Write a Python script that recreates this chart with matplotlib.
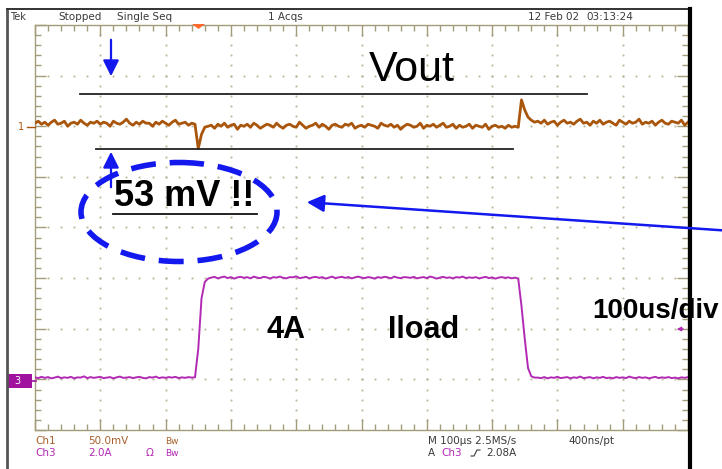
import numpy as np
import matplotlib
matplotlib.use("Agg")
import matplotlib.pyplot as plt
from matplotlib.patches import Ellipse, Rectangle, Polygon

# scope settings
sample_us = 5            # spacing of the read-off samples
time_per_div = 100       # us/div
ch1_scale_mv = 50.0      # mV/div
ch1_pos_div = 2
ch3_scale_a = 2.0        # A/div
ch3_pos_div = -3

# Ch1 : Vout (mV, relative to ch1 ground marker)
vout_pre = [3, 5, 2, 4, 1, 4, 6, 2, 3, 5,
            0, 3, 4, 2, 6, 3, 1, 4, 3, 5,
            2, 4, 3, 0, 5, 3, 2, 4, 7, 3,
            1, 4, 2, 5, 3, 3, 0, 4, 2, 5,
            3, 1, 4, 6, 2, 3, 4, 1, 3]
vout_dip = [2, -22, -8, -1, 0]
vout_mid = [1, -2, 2, 0, 3, -1, 1, 2, -3, 1,
            0, 2, -1, 3, 1, -2, 0, 2, 1, -1,
            3, 0, -2, 1, 2, 0, -1, 4, 1, -2,
            0, 1, 3, -1, 2, 0, -3, 1, 2, 0,
            -1, 2, 1, 3, -2, 0, 1, -1, 2, 1,
            0, -2, 3, 1, 0, 2, -1, 1, -3, 0,
            2, 1, -1, 0, 3, -2, 1, 0, 2, -1,
            1, 3, -1, 0, 2, -2, 1, -1, 0, 2,
            -2, 1, 0, -1, 2, -3, 0, 1, -1, 0,
            -2, 1, -1, 0]
vout_spike = [-1, 26, 16, 9, 6, 4]
vout_post = [5, 3, 6, 2, 4, 5, 1, 4, 6, 3,
             4, 2, 5, 7, 3, 4, 1, 5, 3, 6,
             2, 4, 5, 3, 1, 6, 4, 2, 5, 3,
             4, 7, 2, 4, 3, 5, 1, 4, 6, 3,
             2, 5, 4, 3, 6, 1, 4]

# Ch3 : Iload (A)
iload_pre = [0.08, 0.05, 0.10, 0.06, 0.09, 0.04, 0.07, 0.11, 0.05, 0.08,
             0.06, 0.10, 0.04, 0.08, 0.07, 0.12, 0.05, 0.09, 0.06, 0.08,
             0.10, 0.05, 0.07, 0.09, 0.04, 0.08, 0.11, 0.06, 0.07, 0.09,
             0.05, 0.08, 0.10, 0.06, 0.04, 0.09, 0.07, 0.11, 0.05, 0.08,
             0.06, 0.09, 0.07, 0.10, 0.05, 0.08, 0.06, 0.09, 0.07]
iload_rise = [0.08, 1.2, 3.2, 3.85, 3.98]
iload_mid = [4.02, 4.05, 3.99, 4.03, 4.06, 4.00, 4.04, 3.98, 4.03, 4.05,
             4.01, 4.04, 3.99, 4.06, 4.02, 4.00, 4.05, 4.03, 3.98, 4.04,
             4.02, 4.06, 4.01, 3.99, 4.04, 4.03, 4.07, 4.00, 4.02, 4.05,
             3.99, 4.03, 4.05, 4.01, 4.04, 3.98, 4.02, 4.06, 4.00, 4.03,
             4.05, 4.01, 4.04, 3.99, 4.03, 4.06, 4.02, 4.00, 4.04, 4.02,
             3.98, 4.04, 4.01, 4.05, 4.03, 3.99, 4.06, 4.02, 4.00, 4.04,
             4.03, 4.01, 4.05, 3.99, 4.02, 4.04, 4.00, 4.06, 4.03, 3.98,
             4.02, 4.05, 4.01, 4.03, 3.99, 4.04, 4.02, 4.06, 4.00, 4.03,
             4.01, 4.04, 3.99, 4.02, 4.05, 4.00, 4.03, 3.98, 4.02, 4.04,
             4.01, 4.03, 3.99, 4.02]
iload_fall = [3.98, 2.9, 1.6, 0.45, 0.12, 0.07]
iload_post = [0.07, 0.05, 0.09, 0.04, 0.08, 0.06, 0.10, 0.05, 0.07, 0.09,
              0.04, 0.08, 0.06, 0.11, 0.05, 0.07, 0.09, 0.04, 0.08, 0.06,
              0.10, 0.05, 0.07, 0.04, 0.09, 0.06, 0.08, 0.05, 0.11, 0.07,
              0.05, 0.09, 0.06, 0.08, 0.04, 0.07, 0.10, 0.05, 0.08, 0.06,
              0.09, 0.05, 0.07, 0.04, 0.08, 0.06, 0.09]

VOUT_C = "#a9560c"
ILOAD_C = "#b22ab4"
CH3_BOX = "#a0129e"
GRAT_C = "#a39c7a"
DOT_C = "#b7b195"
BLUE = "#1218ee"
GREY_TXT = "#3a3a3a"
SANS = ["Liberation Sans", "DejaVu Sans"]

W, H = 722, 469


def px_axes(fig, x0, y0, x1, y1):
    # axes rectangle given in image pixels (top-left origin)
    return fig.add_axes([x0 / W, 1 - y1 / H, (x1 - x0) / W, (y1 - y0) / H])


def draw_graticule(ax):
    ax.set_xlim(0, 10 * time_per_div)
    ax.set_ylim(-4, 4)
    for s in ax.spines.values():
        s.set_color(GRAT_C)
        s.set_linewidth(1.0)
    ax.xaxis.set_major_locator(plt.MultipleLocator(time_per_div))
    ax.xaxis.set_minor_locator(plt.MultipleLocator(time_per_div / 5))
    ax.yaxis.set_major_locator(plt.MultipleLocator(1))
    ax.yaxis.set_minor_locator(plt.MultipleLocator(0.2))
    ax.tick_params(which="both", direction="in", top=True, right=True,
                   labelbottom=False, labelleft=False, color=GRAT_C, width=1)
    ax.tick_params(which="major", length=8)
    ax.tick_params(which="minor", length=4)

    # dotted division lines
    xs_minor = np.arange(0, 1001, time_per_div / 5)
    ys_minor = np.arange(-4, 4.01, 0.2)
    for xv in range(time_per_div, 10 * time_per_div, time_per_div):
        ax.plot(np.full_like(ys_minor, xv), ys_minor, ls="none", marker="s",
                ms=1.3, mew=0, color=DOT_C, zorder=1)
    for yv in range(-3, 4):
        ax.plot(xs_minor, np.full_like(xs_minor, yv), ls="none", marker="s",
                ms=1.3, mew=0, color=DOT_C, zorder=1)


def small(ov, x, y, s, color=GREY_TXT, size=7.5):
    ov.text(x, y, s, fontsize=size, color=color, va="center",
            family="DejaVu Sans")


def main():
    fig = plt.figure(figsize=(W / 100, H / 100), dpi=100)
    fig.patch.set_facecolor("white")

    ax = px_axes(fig, 35, 25, 688, 430)
    draw_graticule(ax)

    vout = np.array(vout_pre + vout_dip + vout_mid + vout_spike + vout_post, float)
    iload = np.array(iload_pre + iload_rise + iload_mid + iload_fall + iload_post, float)
    t = np.arange(len(vout)) * sample_us

    ax.plot(t, ch1_pos_div + vout / ch1_scale_mv, color=VOUT_C, lw=2.0, zorder=3)
    ax.plot(t[:len(iload)], ch3_pos_div + iload / ch3_scale_a, color=ILOAD_C,
            lw=1.4, zorder=3)

    # overlay in image pixels for frame, readouts and hand-drawn notes
    ov = px_axes(fig, 0, 0, W, H)
    ov.set_xlim(0, W)
    ov.set_ylim(H, 0)
    ov.axis("off")

    # outer frame
    ov.plot([7, 7], [9, H], color="#555555", lw=2)
    ov.plot([7, 691], [9, 9], color="#333333", lw=1.4)
    ov.plot([690, 690], [9, H], color="black", lw=3)

    # top status line
    small(ov, 10, 17, "Tek", size=7)
    small(ov, 58, 17, "Stopped")
    small(ov, 117, 17, "Single Seq")
    small(ov, 268, 17, "1 Acqs")
    small(ov, 528, 17, "12 Feb 02")
    small(ov, 586, 17, "03:13:24")
    ov.add_patch(Polygon([(192, 24), (205, 24), (198.5, 29)], closed=True,
                         color="#ff6a2a", lw=0))

    # channel markers
    ov.text(21, 127, "1", fontsize=7, color=VOUT_C, ha="center", va="center")
    ov.plot([27, 35], [127, 127], color=VOUT_C, lw=1)
    ov.add_patch(Rectangle((7, 374), 25, 14, color=CH3_BOX, lw=0))
    ov.text(17, 381, "3", fontsize=7, color="white", ha="center", va="center")
    ov.plot([32, 36], [381, 381], color=CH3_BOX, lw=1.2)
    ov.annotate("", xy=(674, 329), xytext=(686, 329),
                arrowprops=dict(arrowstyle="-|>", color=ILOAD_C, lw=1,
                                mutation_scale=6))

    # bottom readouts
    ch1_c = "#a8602c"
    small(ov, 35, 441, "Ch1", ch1_c)
    small(ov, 88, 441, "50.0mV", ch1_c)
    small(ov, 165, 441, "Bw", ch1_c, size=6.5)
    small(ov, 35, 453, "Ch3", ILOAD_C)
    small(ov, 88, 453, "2.0A", ILOAD_C)
    small(ov, 146, 453, "\u03a9", ILOAD_C)
    small(ov, 165, 453, "Bw", ILOAD_C, size=6.5)
    small(ov, 428, 441, "M 100\u00b5s 2.5MS/s")
    small(ov, 568, 441, "400ns/pt")
    small(ov, 428, 453, "A")
    small(ov, 441, 453, "Ch3", ILOAD_C)
    ov.plot([471, 474, 477, 480], [456, 456, 450, 450], color=GREY_TXT, lw=0.8)
    small(ov, 486, 453, "2.08A")

    # hand annotations
    ov.text(412, 70, "Vout", fontsize=31, ha="center", va="center", family=SANS)
    ov.plot([80, 587], [94, 94], color="#222222", lw=1.3)
    ov.plot([96, 513], [149, 149], color="#222222", lw=1.3)
    arr = dict(arrowstyle="-|>", color=BLUE, lw=1.6, mutation_scale=24)
    ov.annotate("", xy=(111, 79), xytext=(111, 37), arrowprops=arr)
    ov.annotate("", xy=(111, 149), xytext=(111, 190), arrowprops=arr)

    ov.text(184, 196, "53 mV !!", fontsize=26, fontweight="bold",
            ha="center", va="center", family=SANS)
    ov.plot([113, 257], [214, 214], color="#111111", lw=1.3)
    ov.add_patch(Ellipse((179, 212), 196, 99, fill=False, edgecolor=BLUE,
                         lw=4, ls=(0, (4.5, 2.5))))
    ov.annotate("", xy=(304, 202), xytext=(725, 230.5),
                arrowprops=dict(arrowstyle="-|>", color=BLUE, lw=1.8,
                                mutation_scale=26))

    ov.text(286, 330, "4A", fontsize=22, fontweight="bold", ha="center",
            va="center", family=SANS)
    ov.text(424, 330, "Iload", fontsize=22, fontweight="bold", ha="center",
            va="center", family=SANS)
    ov.text(656, 311, "100us/div", fontsize=20, fontweight="bold", ha="center",
            va="center", family=SANS)

    fig.savefig("out.png", dpi=100)


if __name__ == "__main__":
    main()
